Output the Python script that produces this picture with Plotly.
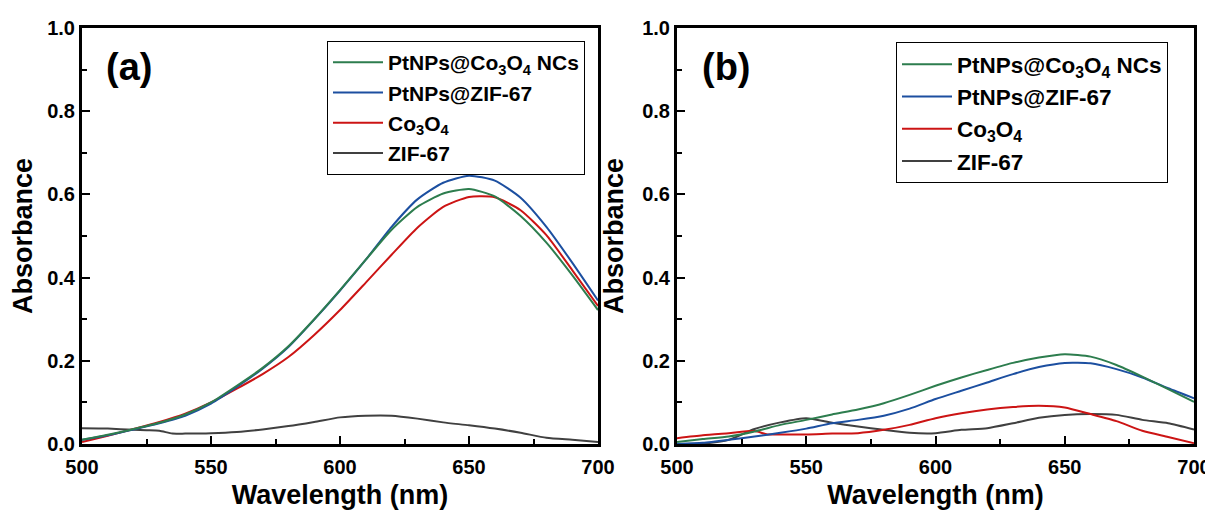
import plotly.graph_objects as go
from plotly.subplots import make_subplots

# wavelength grid (nm)
wl = [500, 510, 520, 530, 540, 550, 560, 570, 580, 590, 600,
      610, 620, 630, 640, 650, 660, 670, 680, 690, 700]

# panel (a)
pt_co3o4_a = [0.010, 0.022, 0.036, 0.051, 0.071, 0.100, 0.140, 0.183, 0.235, 0.300, 0.370,
              0.443, 0.515, 0.570, 0.602, 0.613, 0.595, 0.548, 0.484, 0.406, 0.322]
pt_zif_a = [0.010, 0.021, 0.035, 0.050, 0.068, 0.097, 0.137, 0.181, 0.233, 0.299, 0.369,
            0.443, 0.522, 0.588, 0.628, 0.645, 0.633, 0.592, 0.522, 0.436, 0.345]
co3o4_a = [0.005, 0.020, 0.036, 0.053, 0.073, 0.100, 0.133, 0.168, 0.209, 0.262, 0.322,
           0.388, 0.455, 0.520, 0.570, 0.594, 0.593, 0.562, 0.502, 0.418, 0.332]
wl_zif_a = [500, 510, 520, 525, 530, 535, 540, 550, 560, 570, 580, 590, 600,
            610, 620, 630, 640, 650, 660, 670, 680, 690, 700]
zif_a = [0.038, 0.037, 0.034, 0.033, 0.032, 0.025, 0.025, 0.026, 0.029, 0.035, 0.043, 0.053, 0.064,
         0.068, 0.068, 0.061, 0.052, 0.045, 0.037, 0.027, 0.015, 0.010, 0.005]

# panel (b)
pt_co3o4_b = [0.005, 0.012, 0.018, 0.030, 0.046, 0.058, 0.071, 0.083, 0.098, 0.118, 0.140,
              0.160, 0.178, 0.195, 0.208, 0.216, 0.210, 0.190, 0.162, 0.132, 0.101]
pt_zif_b = [0.000, 0.003, 0.010, 0.018, 0.027, 0.037, 0.050, 0.058, 0.068, 0.085, 0.108,
            0.128, 0.148, 0.168, 0.185, 0.195, 0.194, 0.180, 0.160, 0.134, 0.110]
wl_co3o4_b = [500, 510, 520, 530, 535, 540, 550, 560, 570, 580, 590, 600,
              610, 620, 630, 640, 650, 660, 670, 680, 690, 700]
co3o4_b = [0.014, 0.021, 0.026, 0.031, 0.023, 0.023, 0.023, 0.025, 0.026, 0.034, 0.046, 0.062,
           0.074, 0.083, 0.089, 0.092, 0.088, 0.072, 0.055, 0.032, 0.017, 0.002]
zif_b = [0.000, 0.001, 0.010, 0.036, 0.052, 0.062, 0.051, 0.042, 0.034, 0.027, 0.026,
         0.034, 0.038, 0.050, 0.063, 0.070, 0.072, 0.070, 0.058, 0.050, 0.035]

names = ["PtNPs@Co<sub>3</sub>O<sub>4</sub> NCs", "PtNPs@ZIF-67",
         "Co<sub>3</sub>O<sub>4</sub>", "ZIF-67"]
colors = ["#2d7d4e", "#1c4fa0", "#cc1414", "#404040"]

FONT = "Liberation Sans, Arial, sans-serif"

# page body has an 8px margin, so size the figure to fit the window
W, H = 1205, 504
def px(x):
    return (x - 8) / W
def py(y):
    return 1 - (y - 8) / H

fig = make_subplots(rows=1, cols=2)

panels = [
    (1, "legend", [(wl, pt_co3o4_a), (wl, pt_zif_a), (wl, co3o4_a), (wl_zif_a, zif_a)]),
    (2, "legend2", [(wl, pt_co3o4_b), (wl, pt_zif_b), (wl_co3o4_b, co3o4_b), (wl, zif_b)]),
]
for col, leg, series in panels:
    # draw in reverse so green ends on top
    for i in [3, 2, 1, 0]:
        x, y = series[i]
        fig.add_trace(go.Scatter(x=x, y=y, mode="lines", name=names[i],
                                 line=dict(color=colors[i], width=2, shape="spline", smoothing=0.6),
                                 legend=leg, legendrank=i),
                      row=1, col=col)

axis_common = dict(showline=True, linecolor="black", linewidth=3, mirror=True,
                   ticks="inside", ticklen=8, tickwidth=2, tickcolor="black",
                   showgrid=False, zeroline=False, automargin=False,
                   tickfont=dict(family=FONT, size=20, color="black", weight="bold"))

for col, dom in [(1, [px(82), px(598)]), (2, [px(677), px(1194)])]:
    fig.update_xaxes(axis_common, range=[500, 700], dtick=50, tick0=500,
                     minor=dict(dtick=25, ticks="inside", ticklen=5, tickwidth=2, tickcolor="black"),
                     domain=dom, ticklabelstandoff=3,
                     title=dict(text="Wavelength (nm)", standoff=9,
                                font=dict(family=FONT, size=27, color="black", weight="bold")),
                     row=1, col=col)
    fig.update_yaxes(axis_common, range=[0, 1], dtick=0.2, tickformat=".1f",
                     minor=dict(dtick=0.1, ticks="inside", ticklen=5, tickwidth=2, tickcolor="black"),
                     domain=[py(444), py(28)],
                     title=dict(text="Absorbance", standoff=11,
                                font=dict(family=FONT, size=27, color="black", weight="bold")),
                     row=1, col=col)

leg_style = dict(bordercolor="black", borderwidth=1, bgcolor="white",
                 traceorder="normal", itemwidth=50, xanchor="left", yanchor="top")

fig.update_layout(
    width=W, height=H,
    margin=dict(l=0, r=0, t=0, b=0),
    plot_bgcolor="white", paper_bgcolor="white",
    legend=dict(leg_style, x=px(327), y=py(41),
                font=dict(family=FONT, size=21, color="black", weight="bold")),
    legend2=dict(leg_style, x=px(896), y=py(42),
                 font=dict(family=FONT, size=22.5, color="black", weight="bold")),
    annotations=[
        dict(text="(a)", x=px(129), y=py(67), xref="paper", yref="paper",
             xanchor="center", yanchor="middle", showarrow=False,
             font=dict(family=FONT, size=38, color="black", weight="bold")),
        dict(text="(b)", x=px(726), y=py(67), xref="paper", yref="paper",
             xanchor="center", yanchor="middle", showarrow=False,
             font=dict(family=FONT, size=38, color="black", weight="bold")),
    ],
)

fig.write_html("out.html")
